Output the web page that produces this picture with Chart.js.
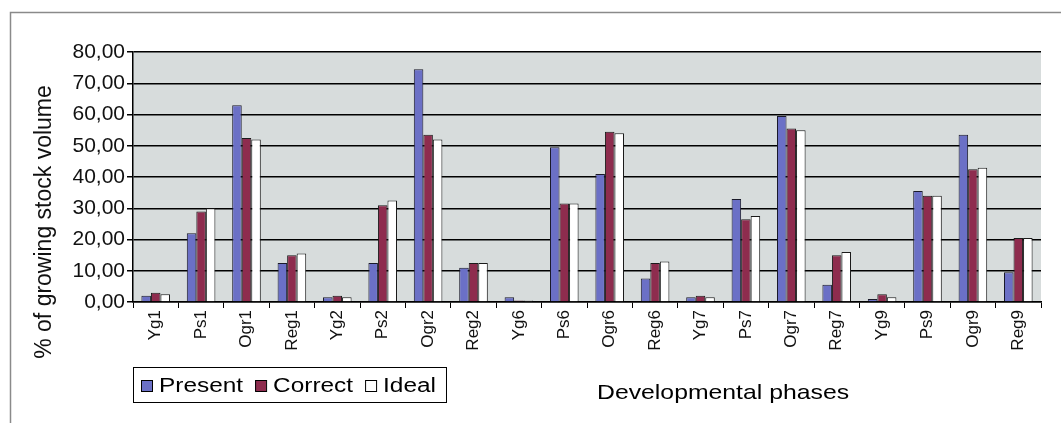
<!DOCTYPE html>
<html>
<head>
<meta charset="utf-8">
<script src="https://cdn.jsdelivr.net/npm/chart.js@4/dist/chart.umd.min.js"></script>
<style>
  html, body { margin: 0; padding: 0; background: #fff; }
  #wrap { position: relative; width: 1061px; height: 423px; }
</style>
</head>
<body>
<div id="wrap"><canvas id="myChart"></canvas></div>
<script>
// categories (developmental phases)
var phases = ['Yg1', 'Ps1', 'Ogr1', 'Reg1', 'Yg2', 'Ps2', 'Ogr2', 'Reg2', 'Yg6', 'Ps6',
              'Ogr6', 'Reg6', 'Yg7', 'Ps7', 'Ogr7', 'Reg7', 'Yg9', 'Ps9', 'Ogr9', 'Reg9'];

// % of growing stock volume
var present = [2.0, 22.0, 63.0, 12.5, 1.5, 12.5, 74.5, 11.0, 1.5, 49.5,
               41.0, 7.5, 1.5, 33.0, 59.5, 5.5, 1.0, 35.5, 53.5, 9.5];
var correct = [3.0, 29.0, 52.5, 15.0, 2.0, 31.0, 53.5, 12.5, 0.5, 31.5,
               54.5, 12.5, 2.0, 26.5, 55.5, 15.0, 2.5, 34.0, 42.5, 20.5];
var ideal   = [2.5, 30.0, 52.0, 15.5, 1.5, 32.5, 52.0, 12.5, 0.5, 31.5,
               54.0, 13.0, 1.5, 27.5, 55.0, 16.0, 1.5, 34.0, 43.0, 20.5];

var yTicks = [0, 10, 20, 30, 40, 50, 60, 70, 80];

var yTitle = '% of growing stock volume';
var xTitle = 'Developmental phases';

var fontFamily = '"Liberation Sans", Arial, sans-serif';

// grey plot background + outer frame
var plotBg = {
    id: 'plotBg',
    beforeDraw: function(chart) {
        var ctx = chart.ctx, a = chart.chartArea;
        ctx.save();
        ctx.fillStyle = '#d7dcdc';
        ctx.fillRect(a.left, a.top, a.right - a.left, a.bottom - a.top);
        ctx.strokeStyle = '#8a8a8a';
        ctx.lineWidth = 1.5;
        ctx.beginPath();
        ctx.moveTo(10.5, 423);
        ctx.lineTo(10.5, 12.5);
        ctx.lineTo(1061, 12.5);
        ctx.stroke();
        ctx.restore();
    }
};

// boxed legend on the left, axis titles (text a bit wide, like the scan)
var legendBox = {
    id: 'legendBox',
    afterDraw: function(chart) {
        var ctx = chart.ctx, a = chart.chartArea;
        var y = 385, sx = 1.22;
        ctx.save();
        ctx.font = '20px ' + fontFamily;
        ctx.textBaseline = 'middle';
        var x = a.left + 8;
        var startX = a.left;
        chart.data.datasets.forEach(function(ds) {
            ctx.fillStyle = ds.backgroundColor;
            ctx.fillRect(x, y - 5, 11, 11);
            ctx.strokeStyle = '#000';
            ctx.lineWidth = 1;
            ctx.strokeRect(x + 0.5, y - 4.5, 11, 11);
            x += 18;
            ctx.fillStyle = '#000';
            ctx.save();
            ctx.translate(x, y + 1);
            ctx.scale(sx, 1);
            ctx.fillText(ds.label, 0, 0);
            ctx.restore();
            x += ctx.measureText(ds.label).width * sx + 12;
        });
        ctx.strokeStyle = '#000';
        ctx.lineWidth = 1;
        ctx.strokeRect(startX + 0.5, y - 17.5, x - startX - 2, 35);

        ctx.font = '21px ' + fontFamily;
        ctx.textAlign = 'left';
        ctx.save();
        ctx.translate(a.left + 464, y + 8);
        ctx.scale(1.18, 1);
        ctx.fillText(xTitle, 0, 0);
        ctx.restore();

        // y axis title, centred a little below the plot middle as in the scan
        ctx.font = '23px ' + fontFamily;
        ctx.textAlign = 'center';
        ctx.translate(45, (a.top + a.bottom) / 2 + 45);
        ctx.rotate(-Math.PI / 2);
        ctx.fillStyle = '#111';
        ctx.fillText(yTitle, 0, 0);
        ctx.restore();
    }
};

var ctx = document.getElementById('myChart').getContext('2d');
var myChart = new Chart(ctx, {
    type: 'bar',
    data: {
        labels: phases,
        datasets: [
            { label: 'Present', data: present, backgroundColor: '#6b70c6', borderColor: '#1a1a2a', borderWidth: 1 },
            { label: 'Correct', data: correct, backgroundColor: '#8e2c4e', borderColor: '#1a1a1a', borderWidth: 1 },
            { label: 'Ideal', data: ideal, backgroundColor: '#ffffff', borderColor: '#1a1a1a', borderWidth: 1 }
        ]
    },
    options: {
        responsive: true,
        maintainAspectRatio: false,
        animation: false,
        layout: { padding: { left: 10, right: 20, top: 52, bottom: 0 } },
        datasets: { bar: { categoryPercentage: 0.63, barPercentage: 1.0 } },
        plugins: {
            legend: { display: false },
            tooltip: { enabled: false }
        },
        scales: {
            x: {
                grid: { display: true, drawOnChartArea: false, offset: true, color: '#000', tickLength: 6 },
                border: { color: '#000', width: 1.5 },
                ticks: {
                    color: '#111', minRotation: 90, maxRotation: 90, autoSkip: false, padding: 2,
                    font: { family: fontFamily, size: 17 }
                },
                afterFit: function(scale) { scale.height = 121; }
            },
            y: {
                min: 0, max: 80,
                afterBuildTicks: function(scale) {
                    scale.ticks = yTicks.map(function(v) { return { value: v }; });
                },
                grid: { color: '#000', lineWidth: 1.5, tickLength: 6 },
                border: { color: '#000', width: 1.5 },
                ticks: {
                    color: '#111', padding: 2,
                    font: { family: fontFamily, size: 21 },
                    callback: function(v) { return v.toFixed(2).replace('.', ','); }
                },
                afterFit: function(scale) { scale.width = 123; }
            }
        }
    },
    plugins: [plotBg, legendBox]
});
</script>
</body>
</html>
